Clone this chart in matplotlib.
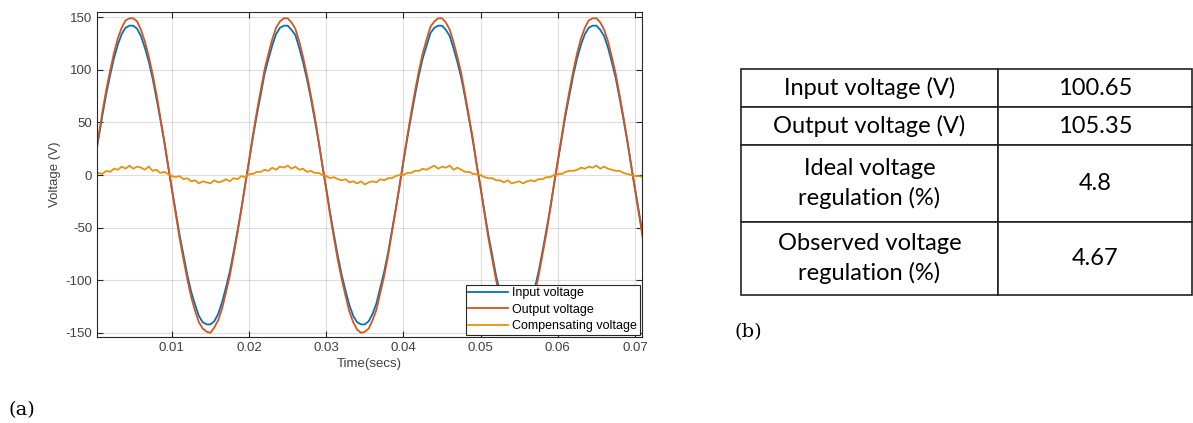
import matplotlib.pyplot as plt
import numpy as np

# sample times (s), 0.5 ms spacing
time = np.arange(0, 0.0715, 0.0005)

# output voltage (V)
output_v = [14, 37, 60, 81, 99, 116, 130, 140, 147, 149, 149, 146, 138, 127, 113, 96, 77, 55, 33, 10,
            -14, -37, -60, -80, -99, -116, -129, -140, -146, -149, -150, -145, -138, -127, -112, -96, -76, -55, -33, -9,
            14, 38, 60, 80, 100, 115, 129, 140, 146, 149, 149, 145, 139, 127, 112, 95, 76, 56, 33, 9,
            -14, -38, -60, -81, -99, -115, -130, -140, -147, -150, -149, -146, -138, -128, -112, -96, -77, -55, -33, -10,
            14, 37, 59, 80, 99, 116, 129, 141, 146, 149, 149, 145, 138, 126, 112, 96, 76, 55, 34, 9,
            -13, -37, -60, -80, -100, -116, -129, -140, -146, -149, -149, -145, -138, -127, -113, -96, -76, -56, -33, -9,
            14, 37, 60, 80, 99, 116, 130, 140, 147, 149, 149, 145, 138, 127, 112, 96, 76, 55, 33, 9,
            -14, -37, -60]

# input voltage (V)
input_v = [13, 35, 57, 77, 95, 111, 124, 134, 140, 142, 142, 139, 132, 121, 108, 92, 73, 53, 32, 9,
           -13, -35, -57, -76, -95, -111, -123, -134, -140, -142, -142, -139, -132, -121, -107, -92, -73, -53, -32, -9,
           13, 36, 57, 76, 96, 110, 123, 134, 140, 142, 142, 138, 133, 121, 107, 91, 73, 53, 32, 9,
           -13, -36, -57, -77, -95, -110, -124, -134, -140, -142, -142, -139, -132, -122, -107, -92, -74, -53, -32, -10,
           13, 35, 56, 76, 95, 111, 123, 135, 140, 142, 142, 138, 132, 120, 107, 92, 73, 53, 32, 9,
           -12, -35, -57, -76, -96, -111, -123, -134, -140, -142, -142, -138, -132, -121, -108, -92, -73, -53, -32, -9,
           13, 35, 57, 76, 95, 111, 124, 134, 140, 142, 142, 138, 132, 121, 107, 92, 73, 53, 32, 9,
           -13, -35, -57]

# compensating voltage (V)
comp_v = [0, 2, 1, 4, 3, 6, 5, 8, 6, 9, 6, 8, 7, 5, 8, 4, 5, 2, 3, 1,
          -1, -2, -1, -4, -3, -6, -5, -8, -6, -7, -8, -5, -7, -6, -4, -6, -3, -4, -1, -2,
          1, 1, 3, 3, 5, 4, 7, 5, 8, 7, 9, 6, 8, 5, 6, 3, 4, 2, 2, 0,
          -1, -3, -2, -4, -5, -4, -7, -6, -8, -6, -9, -7, -6, -7, -4, -5, -3, -3, -1, 0,
          0, 2, 2, 4, 4, 6, 5, 7, 9, 6, 8, 7, 9, 5, 7, 5, 3, 3, 1, 1,
          0, -2, -3, -3, -5, -5, -7, -5, -8, -7, -6, -8, -6, -5, -6, -4, -4, -2, -2, 0,
          1, 1, 3, 4, 4, 5, 7, 6, 8, 7, 9, 6, 8, 6, 5, 4, 4, 2, 1, 0,
          -1, -1, -2]

labels = ["Input voltage", "Output voltage", "Compensating voltage"]

table_rows = ["Input voltage (V)", "Output voltage (V)",
              "Ideal voltage\nregulation (%)", "Observed voltage\nregulation (%)"]
table_vals = ["100.65", "105.35", "4.8", "4.67"]

plt.rcParams['font.family'] = ['Liberation Sans', 'DejaVu Sans']
plt.rcParams['axes.unicode_minus'] = False
dark = '#262626'

fig = plt.figure(figsize=(11.93, 4.23), dpi=100)
ax = fig.add_axes([97 / 1193, 1 - 337 / 423, 545 / 1193, 325 / 423])

ax.plot(time, input_v, color='#0072BD', lw=1.3, label=labels[0])
ax.plot(time, output_v, color='#D95319', lw=1.3, label=labels[1])
ax.plot(time, comp_v, color='#E8920C', lw=1.3, label=labels[2])

ax.set_xlim(0.0003, 0.0709)
ax.set_ylim(-154, 155)
ax.set_xticks([0.01, 0.02, 0.03, 0.04, 0.05, 0.06, 0.07])
ax.set_xticklabels(['0.01', '0.02', '0.03', '0.04', '0.05', '0.06', '0.07'])
ax.set_yticks([-150, -100, -50, 0, 50, 100, 150])
ax.grid(True, color=dark, alpha=0.15, lw=0.8)
ax.tick_params(direction='in', top=True, right=True, length=4, width=0.8,
               colors=dark, labelsize=9.5, labelcolor='#404040')
for s in ax.spines.values():
    s.set_color(dark)
    s.set_linewidth(0.8)
ax.set_xlabel("Time(secs)", fontsize=9.5, color='#404040', labelpad=3)
ax.set_ylabel("Voltage (V)", fontsize=9.5, color='#404040', labelpad=3)

leg = ax.legend(loc='lower right', fontsize=9, handlelength=3.2, handletextpad=0.3,
                borderpad=0.2, labelspacing=0.35, borderaxespad=0.2,
                fancybox=False, framealpha=1, edgecolor=dark)
leg.get_frame().set_linewidth(0.8)

# table (b)
tax = fig.add_axes([741 / 1193, 1 - 295 / 423, 451 / 1193, 226 / 423])
tax.axis('off')
cells = [[r, v] for r, v in zip(table_rows, table_vals)]
tbl = tax.table(cellText=cells, colWidths=[0.57, 0.43], cellLoc='center',
                bbox=[0, 0, 1, 1])
tbl.auto_set_font_size(False)
heights = [38, 38, 77, 73]
for (r, c), cell in tbl.get_celld().items():
    cell.set_height(heights[r])
    cell.set_linewidth(1.2)
    cell.set_edgecolor('#222222')
    cell.get_text().set_fontsize(17)
    cell.get_text().set_fontfamily('Lato')
    cell.get_text().set_linespacing(1.45)

fig.text(8 / 1193, 1 - 410 / 423, "(a)", fontsize=14, family='DejaVu Serif', va='center')
fig.text(735 / 1193, 1 - 332 / 423, "(b)", fontsize=14, family='DejaVu Serif', va='center')

fig.savefig('out.png', dpi=100)
